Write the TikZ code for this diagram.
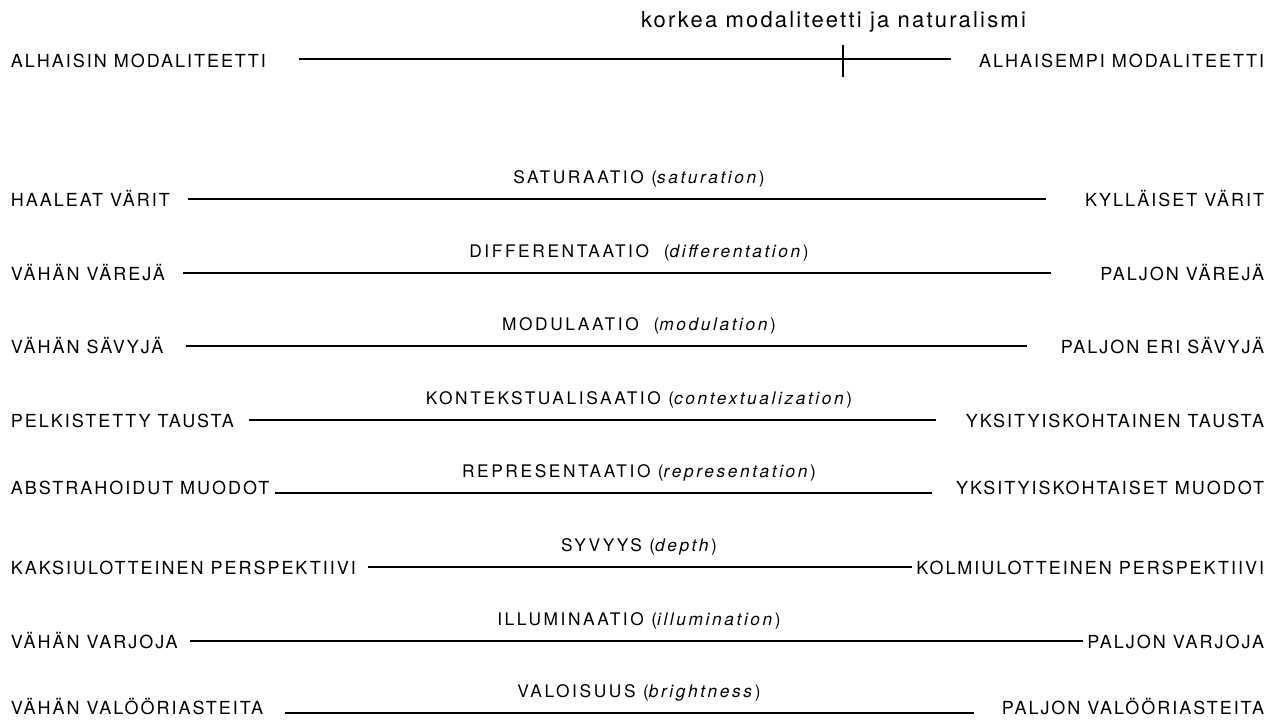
\documentclass[tikz,border=0pt]{standalone}
\usepackage{fontspec}
\usetikzlibrary{calc}
\setmainfont{TeX Gyre Heros}[LetterSpace=11]
\newfontfamily\titlefont{TeX Gyre Heros}[LetterSpace=10]
\newfontfamily\axisfont{TeX Gyre Heros}[LetterSpace=15]
\begin{document}
\begin{tikzpicture}[x=0.75pt,y=-0.75pt,
  every node/.style={inner sep=0pt,outer sep=0pt},
  pole/.style={font=\fontsize{13.5}{16}\selectfont},
  axis/.style={font=\axisfont\fontsize{13}{16}\selectfont, anchor=base},
  scaleline/.style={draw=black,line width=0.95pt},
  title/.style={font=\titlefont\fontsize{16.5}{20}\selectfont, anchor=base west}]
\useasboundingbox (0,0) rectangle (1273,719);

% overall modality scale
\node[title] (top) at (641,27) {korkea modaliteetti ja naturalismi};
\node[pole,anchor=base west] (lowL) at (11,67) {ALHAISIN MODALITEETTI};
\node[pole,anchor=base east] (lowR) at (1264,67) {ALHAISEMPI MODALITEETTI};
\coordinate (tickA) at (843,45);
\coordinate (tickB) at (843,77);
\draw[scaleline] ($(lowL.base east)+(33,-8)$) -- ($(lowR.base west)+(-28,-8)$);
\draw[scaleline] (tickA) -- (tickB);

% one row per modality marker:
% #1 name, #2 line y, #3 baseline below the line, #4 left pole,
% #5 gap after the left pole, #6 gap before the right pole,
% #7 right pole, #8 marker name
\newcommand{\markerrow}[8]{%
  \node[pole,anchor=base west] (#1L) at (11,#2+#3) {#4};
  \node[pole,anchor=base east] (#1R) at (1264,#2+#3) {#7};
  \node[axis] (#1M) at (639,#2-16) {#8};
  \draw[scaleline] ($(#1L.base east)+(#5,-#3)$) -- ($(#1R.base west)+(-#6,-#3)$);
}

\markerrow{sat}{199}{7}{HAALEAT VÄRIT}{18}{39}{KYLLÄISET VÄRIT}{SATURAATIO (\textit{saturation})}
\markerrow{dif}{273}{7}{VÄHÄN VÄREJÄ}{18}{49}{PALJON VÄREJÄ}{DIFFERENTAATIO \ (\textit{differentation})}
\markerrow{mod}{346}{7}{VÄHÄN SÄVYJÄ}{23}{34}{PALJON ERI SÄVYJÄ}{MODULAATIO \ (\textit{modulation})}
\markerrow{con}{420}{7}{PELKISTETTY TAUSTA}{15}{30}{YKSITYISKOHTAINEN TAUSTA}{KONTEKSTUALISAATIO (\textit{contextualization})}
\markerrow{rep}{493}{1}{ABSTRAHOIDUT MUODOT}{6}{24}{YKSITYISKOHTAISET MUODOT}{REPRESENTAATIO (\textit{representation})}
\markerrow{dep}{567}{7}{KAKSIULOTTEINEN PERSPEKTIIVI}{12}{4}{KOLMIULOTTEINEN PERSPEKTIIVI}{SYVYYS (\textit{depth})}
\markerrow{ill}{641}{7}{VÄHÄN VARJOJA}{12}{4}{PALJON VARJOJA}{ILLUMINAATIO (\textit{illumination})}
\markerrow{bri}{713}{1}{VÄHÄN VALÖÖRIASTEITA}{22}{28}{PALJON VALÖÖRIASTEITA}{VALOISUUS (\textit{brightness})}
\end{tikzpicture}
\end{document}
